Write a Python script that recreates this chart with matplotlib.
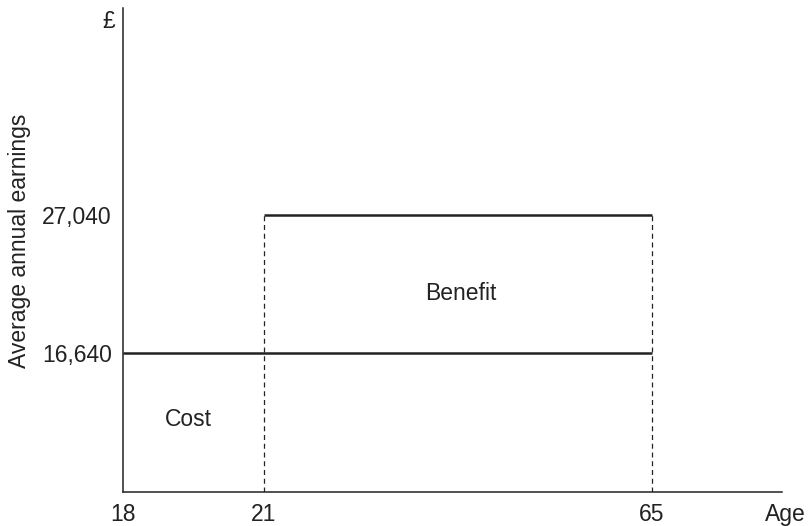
import numpy as np
import matplotlib
matplotlib.use("Agg")
import matplotlib.pyplot as plt

plt.rcParams['font.family'] = ['Liberation Sans', 'DejaVu Sans']

# Ages marked on the horizontal axis
ages = [18, 21, 65]
age_labels = ["18", "21", "65"]

# Average annual earnings (£)
earnings_levels = [16640, 27040]
earnings_labels = ["16,640", "27,040"]

# Earnings paths
no_degree_ages = [18, 65]
no_degree_earn = [16640, 16640]
degree_ages = [21, 65]
degree_earn = [27040, 27040]

# Schematic (non-proportional) age axis
age_knots = [18, 21, 65, 79.7]
pos_knots = [0.0, 141.0, 529.0, 659.0]

def fwd(a):
    return np.interp(a, age_knots, pos_knots, left=-1e3, right=1e4)

def inv(p):
    return np.interp(p, pos_knots, age_knots)

FS = 16.5
INK = '#222222'

fig = plt.figure(figsize=(8.09, 5.26), dpi=100)
ax = fig.add_axes([123 / 809, 1 - 492 / 526, (782 - 123) / 809, (492 - 8) / 526])
ax.set_xscale('function', functions=(fwd, inv))
ax.set_xlim(18, 79.7)
ax.set_ylim(6160, 42650)

ax.plot(no_degree_ages, no_degree_earn, color=INK, lw=1.8, solid_capstyle='butt')
ax.plot(degree_ages, degree_earn, color=INK, lw=1.8, solid_capstyle='butt')
for a in degree_ages:
    ax.plot([a, a], [6160, degree_earn[0]], color=INK, lw=0.9,
            linestyle=(0, (4, 3)))

for s in ['top', 'right']:
    ax.spines[s].set_visible(False)
for s in ['left', 'bottom']:
    ax.spines[s].set_linewidth(1.1)
    ax.spines[s].set_color(INK)

ax.set_xticks(ages)
ax.set_xticklabels(age_labels)
ax.set_yticks(earnings_levels)
ax.set_yticklabels(earnings_labels)
ax.tick_params(length=0, labelsize=FS, colors=INK)
ax.tick_params(axis='x', pad=8)
ax.tick_params(axis='y', pad=8)

ax.set_ylabel("Average annual earnings", fontsize=FS, color=INK)
ax.yaxis.set_label_coords(-92 / 659, 0.52)

ax.text(-14 / 659, 1 - 14 / 484, "£", transform=ax.transAxes, ha='center', va='center',
        fontsize=FS, color=INK)
ax.text(1.005, -11 / 484, "Age", transform=ax.transAxes, ha='center', va='top',
        fontsize=FS, color=INK)
ax.text(43.3, 21150, "Benefit", ha='center', va='center', fontsize=FS, color=INK)
ax.text(19.39, 11600, "Cost", ha='center', va='center', fontsize=FS, color=INK)

fig.savefig("out.png", dpi=100)
